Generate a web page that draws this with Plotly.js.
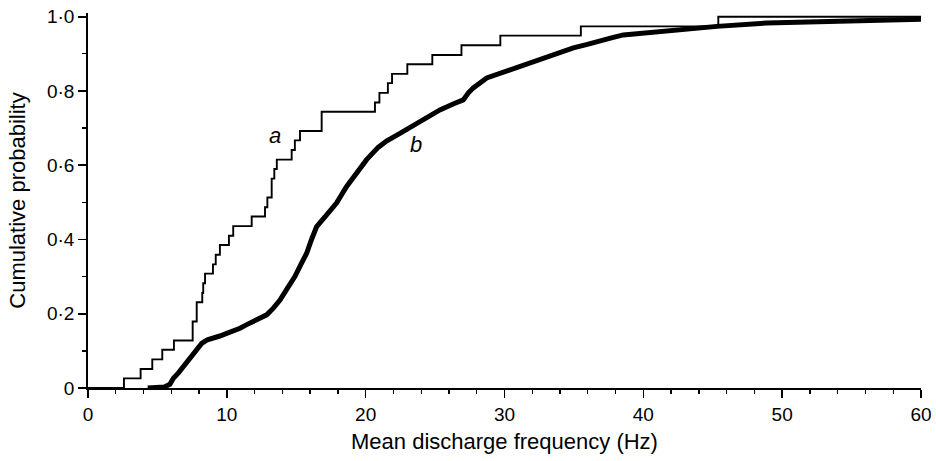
<!DOCTYPE html>
<html>
<head>
<meta charset="utf-8">
<script src="https://cdn.plot.ly/plotly-3.0.1.min.js"></script>
<style>html,body{margin:0;padding:0;background:#fff;}#chart{width:936px;height:461px;}</style>
</head>
<body>
<div id="chart"></div>
<script>
// Curve a: empirical cumulative distribution (step function)
const aX = [0, 2.59, 3.79, 4.63, 5.35, 6.19, 7.54, 7.83, 8.23, 8.30, 8.43, 9.00, 9.20, 9.50, 10.15, 10.46, 11.79, 12.75, 12.92, 13.23, 13.42, 13.60, 14.67, 14.90, 15.27, 16.83, 20.67, 20.99, 21.60, 21.90, 23.00, 24.80, 26.90, 29.70, 35.50, 45.40, 60];
const aY = [0, 0.026, 0.051, 0.077, 0.103, 0.128, 0.179, 0.231, 0.256, 0.282, 0.308, 0.333, 0.359, 0.385, 0.410, 0.436, 0.462, 0.487, 0.513, 0.564, 0.590, 0.615, 0.641, 0.667, 0.692, 0.744, 0.769, 0.795, 0.821, 0.846, 0.872, 0.897, 0.923, 0.949, 0.974, 1.000, 1.000];

// Curve b: dense cumulative distribution (thick line)
const bX = [4.3, 5.5, 5.9, 6.15, 6.5, 6.87, 7.2, 7.59, 8.19, 8.6, 9.03, 9.5, 9.99, 10.5, 10.95, 11.4, 11.9, 12.4, 12.87, 13.35, 13.83, 14.3, 14.9, 15.3, 15.75, 16.1, 16.47, 17.19, 17.9, 18.63, 19.35, 20.07, 20.9, 21.5, 22.47, 23.67, 24.5, 25.35, 26.3, 27.03, 27.4, 27.75, 28.72, 29.68, 30.6, 31.6, 32.5, 33.52, 34.96, 35.9, 36.88, 37.7, 38.56, 40.48, 42.88, 45.3, 48.9, 52, 55.4, 60];
const bY = [0, 0.003, 0.01, 0.026, 0.04, 0.057, 0.075, 0.093, 0.12, 0.13, 0.134, 0.14, 0.147, 0.154, 0.161, 0.17, 0.179, 0.188, 0.197, 0.215, 0.237, 0.265, 0.30, 0.33, 0.363, 0.40, 0.435, 0.466, 0.498, 0.543, 0.579, 0.615, 0.648, 0.665, 0.686, 0.713, 0.73, 0.749, 0.765, 0.776, 0.795, 0.808, 0.835, 0.848, 0.86, 0.871, 0.883, 0.898, 0.916, 0.925, 0.933, 0.943, 0.951, 0.958, 0.966, 0.974, 0.983, 0.986, 0.989, 0.993];

const xTickVals = [0, 10, 20, 30, 40, 50, 60];
const xTickText = ['0', '10', '20', '30', '40', '50', '60'];
const yTickVals = [0, 0.2, 0.4, 0.6, 0.8, 1.0];
const yTickText = ['0', '0·2', '0·4', '0·6', '0·8', '1·0'];

const curveLabels = ['a', 'b'];
const labelX = [13.5, 23.6];
const labelY = [0.68, 0.655];

const FONT = 'Liberation Sans, Arial, Helvetica, sans-serif';

const traces = [
  {x: aX, y: aY, mode: 'lines', line: {shape: 'hv', color: '#000', width: 1.9}, hoverinfo: 'skip', showlegend: false},
  {x: bX, y: bY, mode: 'lines', line: {shape: 'linear', color: '#000', width: 5}, hoverinfo: 'skip', showlegend: false}
];

const layout = {
  width: 936, height: 461,
  margin: {l: 88, r: 15, t: 13, b: 73},
  paper_bgcolor: '#fff', plot_bgcolor: '#fff',
  font: {family: FONT, color: '#000', size: 19},
  showlegend: false,
  xaxis: {
    range: [0, 60], showgrid: false, zeroline: false,
    showline: true, linecolor: '#000', linewidth: 1.8,
    ticks: 'outside', ticklen: 8, tickwidth: 1.6, tickcolor: '#000',
    tickmode: 'array', tickvals: xTickVals, ticktext: xTickText,
    minor: {ticks: 'outside', ticklen: 4, tickwidth: 1.3, tickcolor: '#000', tickmode: 'linear', tick0: 0, dtick: 2},
    tickfont: {size: 19},
    title: {text: 'Mean discharge frequency (Hz)', font: {size: 22}, standoff: 10},
    automargin: false
  },
  yaxis: {
    range: [0, 1.01], showgrid: false, zeroline: false,
    showline: true, linecolor: '#000', linewidth: 1.8,
    ticks: 'outside', ticklen: 8, tickwidth: 1.6, tickcolor: '#000',
    tickmode: 'array', tickvals: yTickVals, ticktext: yTickText,
    minor: {ticks: 'outside', ticklen: 4, tickwidth: 1.3, tickcolor: '#000', tickmode: 'linear', tick0: 0, dtick: 0.1},
    tickfont: {size: 19},
    title: {text: 'Cumulative probability', font: {size: 22}, standoff: 15},
    automargin: false
  },
  annotations: curveLabels.map((t, i) => ({
    x: labelX[i], y: labelY[i], xref: 'x', yref: 'y', text: '<i>' + t + '</i>',
    showarrow: false, font: {size: 22, family: FONT, color: '#000'}
  }))
};

Plotly.newPlot('chart', traces, layout, {staticPlot: true, displayModeBar: false});
</script>
</body>
</html>
